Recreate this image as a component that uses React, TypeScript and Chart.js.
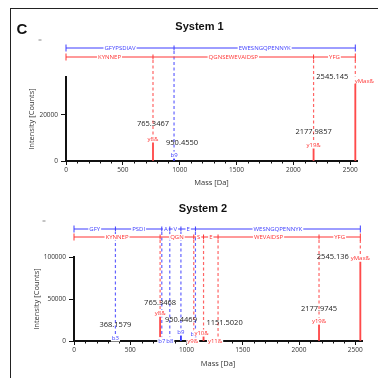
import React, { useEffect, useRef } from 'react';
import { Chart, registerables } from 'chart.js';

Chart.register(...registerables);

// ---------- data ----------
const X_TICKS = [0, 500, 1000, 1500, 2000, 2500];
const X_MAX = 2560;

// System 1
const P1_MASSES = [765.3467, 950.455, 2177.9857, 2545.145];
const P1_INTENSITY = [10000, 3000, 6500, 35500];
const P1_IONS = ['y8&', 'b9', 'y19&', 'yMax&'];
const P1_MASS_LABELS = ['765.3467', '950.4550', '2177.9857', '2545.145'];
const P1_BLUE_SEGMENTS = ['GFYPSDIAV', 'EWESNGQPENNYK'];
const P1_RED_SEGMENTS = ['KYNNEP', 'QGNSEWEVAIDSP', 'YFG'];
const P1_PRECURSOR = 2545.145;
const P1_Y_TICKS = [0, 20000];
const P1_Y_MAX = 36500;

// System 2
const P2_MASSES = [368.1579, 765.3468, 780.4, 851.4, 950.4469, 1064.5, 1079.5, 1151.502, 1280.5, 2177.9745, 2545.136];
const P2_INTENSITY = [4800, 32000, 500, 500, 9500, 300, 7000, 8300, 300, 22600, 99000];
const P2_IONS = ['b3', 'y8&', 'b7', 'b8', 'b9', 'y9&', 'b', 'y10&', 'y11&', 'y19&', 'yMax&'];
const P2_MASS_LABELS = ['368.1579', '765.3468', '', '', '950.4469', '', '', '1151.5020', '', '2177.9745', '2545.136'];
const P2_BLUE_SEGMENTS = ['GFY', 'PSDI', 'A', 'V', 'E', 'WESNGQPENNYK'];
const P2_RED_SEGMENTS = ['KYNNEP', 'QGN', 'S', 'E', 'WEVAIDSP', 'YFG'];
const P2_PRECURSOR = 2545.136;
const P2_Y_TICKS = [0, 50000, 100000];
const P2_Y_MAX = 100500;

// ---------- style / layout (label offsets in px: massDx, massDy, ionDx, ionDy) ----------
const P1_LABEL_OFFSETS = [[0, -14, 0, 1], [8, -11, 0, 1], [0, -14, 0, -1], [-23, -2, 9, 1]];
const P2_LABEL_OFFSETS = [
  [0, -12, 0, 1], [0, -11, 0, -1], [0, 0, 0, 0], [0, 0, 0, 0], [0, -13, 0, -1],
  [0, 0, -1, 0], [0, 0, -3, -1], [21, -11, -2, -1], [0, 0, -3, 0], [0, -13, 0, -1], [-27.5, -1, 0, 0],
];

const RED = '#ff3434';
const RED_PEAK = '#ff4a4a';
const RED_DASH = '#ff6464';
const BLUE = '#3c3cff';
const BLUE_DASH = '#6464ff';
const FONT = "'Open Sans', 'DejaVu Sans', sans-serif";
const BOLD_FONT = "'Liberation Sans', Arial, sans-serif";

type PanelCfg = {
  title: string;
  masses: number[];
  intensity: number[];
  ions: string[];
  massLabels: string[];
  blueSeg: string[];
  redSeg: string[];
  precursor: number;
  yTicks: number[];
  yMax: number;
  offsets: number[][];
  height: number;
  top: number;
  padTop: number;
  padRight: number;
  yWidth: number;
  xHeight: number;
  yTitlePad: number;
  xTitlePad: number;
  blueY: number;
  redY: number;
  titleX: number;
  titleY: number;
  dashX: number;
  dashY: number;
  showC: boolean;
};

const isB = (ion: string) => ion.startsWith('b');

function makePlugin(cfg: PanelCfg) {
  const boundaries = (kind: 'b' | 'y') => {
    const ms = cfg.masses
      .filter((m, i) => (kind === 'b' ? isB(cfg.ions[i]) : !isB(cfg.ions[i])) && Math.abs(m - cfg.precursor) > 1)
      .sort((a, b) => a - b);
    return [0, ...ms, cfg.precursor];
  };

  const drawFrag = (ctx: CanvasRenderingContext2D, xs: any, y: number, bounds: number[], labels: string[], color: string) => {
    const px = bounds.map((b) => xs.getPixelForValue(b));
    ctx.save();
    ctx.strokeStyle = color;
    ctx.lineWidth = 1;
    ctx.beginPath();
    ctx.moveTo(px[0], y);
    ctx.lineTo(px[px.length - 1], y);
    ctx.stroke();
    ctx.font = `6px ${FONT}`;
    ctx.textAlign = 'center';
    ctx.textBaseline = 'middle';
    labels.forEach((lab, i) => {
      const cx = (px[i] + px[i + 1]) / 2;
      const w = ctx.measureText(lab).width;
      ctx.fillStyle = '#ffffff';
      ctx.fillRect(cx - w / 2 - 1, y - 3, w + 2, 6);
      ctx.fillStyle = color;
      ctx.fillText(lab, cx, y + 0.5);
    });
    ctx.beginPath();
    [px[0], px[px.length - 1]].forEach((x) => {
      ctx.moveTo(x, y - 3.5);
      ctx.lineTo(x, y + 3.5);
    });
    px.slice(1, -1).forEach((x) => {
      ctx.moveTo(x, y - 2.5);
      ctx.lineTo(x, y + 2.5);
    });
    ctx.stroke();
    ctx.restore();
  };

  return {
    id: 'annot' + cfg.title,
    beforeDatasetsDraw(chart: any) {
      const ctx = chart.ctx as CanvasRenderingContext2D;
      const xs = chart.scales.x;
      const ys = chart.scales.y;
      ctx.save();
      ctx.lineWidth = 1.2;
      ctx.setLineDash([3, 2.5]);
      cfg.masses.forEach((m, i) => {
        const b = isB(cfg.ions[i]);
        const x = xs.getPixelForValue(m);
        const top = ys.getPixelForValue(cfg.intensity[i]);
        ctx.strokeStyle = b ? BLUE_DASH : RED_DASH;
        ctx.beginPath();
        ctx.moveTo(x, (b ? cfg.blueY : cfg.redY) + 3);
        ctx.lineTo(x, top);
        ctx.stroke();
      });
      ctx.restore();
    },
    afterDraw(chart: any) {
      const ctx = chart.ctx as CanvasRenderingContext2D;
      const xs = chart.scales.x;
      const ys = chart.scales.y;
      const area = chart.chartArea;
      ctx.save();
      // title
      ctx.fillStyle = '#111';
      ctx.font = `bold 11px ${BOLD_FONT}`;
      ctx.textAlign = 'center';
      ctx.textBaseline = 'middle';
      ctx.fillText(cfg.title, cfg.titleX, cfg.titleY);
      if (cfg.showC) {
        ctx.font = `bold 15px ${BOLD_FONT}`;
        ctx.textAlign = 'left';
        ctx.fillText('C', 16.5, 30);
      }
      // small legend dash
      ctx.strokeStyle = '#888';
      ctx.lineWidth = 1;
      ctx.beginPath();
      ctx.moveTo(cfg.dashX - 1.5, cfg.dashY);
      ctx.lineTo(cfg.dashX + 1.5, cfg.dashY);
      ctx.stroke();
      // minor ticks
      ctx.strokeStyle = '#111';
      ctx.lineWidth = 1;
      ctx.beginPath();
      for (let v = 100; v < X_MAX; v += 100) {
        if (v % 500 === 0) continue;
        const x = Math.round(xs.getPixelForValue(v)) + 0.5;
        ctx.moveTo(x, area.bottom);
        ctx.lineTo(x, area.bottom + 2.5);
      }
      ctx.stroke();
      ctx.restore();

      // fragment bars
      drawFrag(ctx, xs, cfg.blueY, boundaries('b'), cfg.blueSeg, BLUE);
      drawFrag(ctx, xs, cfg.redY, boundaries('y'), cfg.redSeg, RED);

      // labels
      ctx.save();
      ctx.textAlign = 'center';
      ctx.textBaseline = 'middle';
      cfg.masses.forEach((m, i) => {
        const x = xs.getPixelForValue(m);
        const top = ys.getPixelForValue(cfg.intensity[i]);
        const [mdx, mdy] = cfg.offsets[i];
        if (cfg.massLabels[i]) {
          ctx.font = `7.5px ${FONT}`;
          ctx.fillStyle = '#222';
          ctx.fillText(cfg.massLabels[i], x + mdx, top + mdy);
        }
      });
      cfg.masses.forEach((m, i) => {
        const x = xs.getPixelForValue(m);
        const top = ys.getPixelForValue(cfg.intensity[i]);
        const [, , idx, idy] = cfg.offsets[i];
        const ion = cfg.ions[i];
        ctx.font = `6px ${FONT}`;
        const w = ctx.measureText(ion).width;
        ctx.fillStyle = '#ffffff';
        ctx.fillRect(x + idx - w / 2 - 1, top + idy - 3.5, w + 2, 7);
        ctx.fillStyle = isB(ion) ? BLUE : RED;
        ctx.fillText(ion, x + idx, top + idy + 0.5);
      });
      ctx.restore();
    },
  };
}

function Panel({ cfg }: { cfg: PanelCfg }) {
  const ref = useRef<HTMLCanvasElement>(null);
  useEffect(() => {
    const tickFont = { size: 6.5, family: FONT };
    const titleFont = { size: 7.5, family: FONT };
    const chart = new Chart(ref.current as HTMLCanvasElement, {
      type: 'bar',
      data: {
        datasets: [
          {
            data: cfg.masses.map((m, i) => ({ x: m, y: cfg.intensity[i] })),
            backgroundColor: cfg.ions.map((ion) => (isB(ion) ? BLUE : RED_PEAK)),
            barThickness: 1.2,
            borderWidth: 0,
          } as any,
        ],
      },
      options: {
        animation: false,
        responsive: false,
        maintainAspectRatio: false,
        layout: { padding: { top: cfg.padTop, right: cfg.padRight, left: 0, bottom: 0 } },
        plugins: { legend: { display: false }, tooltip: { enabled: false }, title: { display: false } },
        scales: {
          x: {
            type: 'linear',
            min: 0,
            max: X_MAX,
            offset: false,
            afterBuildTicks: (s: any) => {
              s.ticks = X_TICKS.map((v) => ({ value: v }));
            },
            afterFit: (s: any) => {
              s.height = cfg.xHeight;
            },
            ticks: {
              font: tickFont,
              color: '#333',
              padding: 1,
              maxRotation: 0,
              autoSkip: false,
              callback: (v: any) => String(v),
            },
            grid: { display: true, drawOnChartArea: false, drawTicks: true, tickLength: 4, color: '#111', lineWidth: 1, offset: false },
            border: { display: true, color: '#111', width: 2 },
            title: { display: true, text: 'Mass [Da]', font: titleFont, color: '#333', padding: { top: 0, bottom: cfg.xTitlePad } },
          },
          y: {
            type: 'linear',
            min: 0,
            max: cfg.yMax,
            afterBuildTicks: (s: any) => {
              s.ticks = cfg.yTicks.map((v) => ({ value: v }));
            },
            afterFit: (s: any) => {
              s.width = cfg.yWidth;
            },
            ticks: { font: tickFont, color: '#333', padding: 3, callback: (v: any) => String(v) },
            grid: { display: true, drawOnChartArea: false, drawTicks: true, tickLength: 5, color: '#111', lineWidth: 1 },
            border: { display: true, color: '#111', width: 2 },
            title: { display: true, text: 'Intensity [Counts]', font: titleFont, color: '#333', padding: { top: cfg.yTitlePad, bottom: 0 } },
          },
        },
      } as any,
      plugins: [makePlugin(cfg)],
    });
    return () => chart.destroy();
  }, [cfg]);
  return (
    <canvas
      ref={ref}
      width={378}
      height={cfg.height}
      style={{ position: 'absolute', left: 0, top: cfg.top, width: 378, height: cfg.height }}
    />
  );
}

const PANEL1: PanelCfg = {
  title: 'System 1',
  masses: P1_MASSES,
  intensity: P1_INTENSITY,
  ions: P1_IONS,
  massLabels: P1_MASS_LABELS,
  blueSeg: P1_BLUE_SEGMENTS,
  redSeg: P1_RED_SEGMENTS,
  precursor: P1_PRECURSOR,
  yTicks: P1_Y_TICKS,
  yMax: P1_Y_MAX,
  offsets: P1_LABEL_OFFSETS,
  height: 190,
  top: 0,
  padTop: 77,
  padRight: 21,
  yWidth: 66,
  xHeight: 29,
  yTitlePad: 27.5,
  xTitlePad: 2.5,
  blueY: 48,
  redY: 57,
  titleX: 199.5,
  titleY: 27,
  dashX: 40,
  dashY: 40,
  showC: true,
};

const PANEL2: PanelCfg = {
  title: 'System 2',
  masses: P2_MASSES,
  intensity: P2_INTENSITY,
  ions: P2_IONS,
  massLabels: P2_MASS_LABELS,
  blueSeg: P2_BLUE_SEGMENTS,
  redSeg: P2_RED_SEGMENTS,
  precursor: P2_PRECURSOR,
  yTicks: P2_Y_TICKS,
  yMax: P2_Y_MAX,
  offsets: P2_LABEL_OFFSETS,
  height: 188,
  top: 190,
  padTop: 67,
  padRight: 16,
  yWidth: 74,
  xHeight: 37,
  yTitlePad: 32,
  xTitlePad: 9.5,
  blueY: 39,
  redY: 47,
  titleX: 203,
  titleY: 19,
  dashX: 44,
  dashY: 31,
  showC: false,
};

export default function App() {
  return (
    <div style={{ position: 'absolute', left: 0, top: 0, width: 378, height: 378, background: '#fff', overflow: 'hidden' }}>
      <div
        style={{
          position: 'absolute',
          left: 9.5,
          top: 7.5,
          width: 378,
          height: 378,
          borderTop: '1.5px solid #222',
          borderLeft: '1.5px solid #222',
        }}
      />
      <Panel cfg={PANEL1} />
      <Panel cfg={PANEL2} />
    </div>
  );
}
